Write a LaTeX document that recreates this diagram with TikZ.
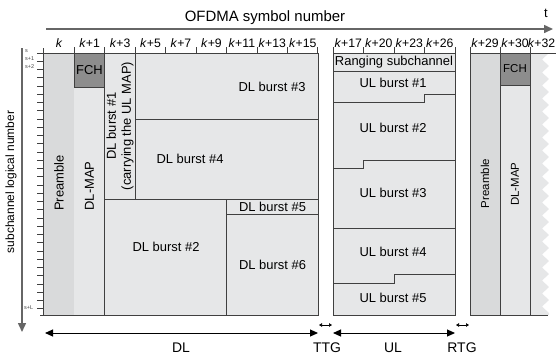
\documentclass[tikz,border=0pt]{standalone}
\usepackage{fontspec}
\setmainfont{Liberation Sans}
\usetikzlibrary{arrows.meta}
\definecolor{burstfill}{HTML}{E6E7E8}
\definecolor{preamblefill}{HTML}{D9DADB}
\definecolor{fchfill}{HTML}{8D8D8D}
\definecolor{linegray}{HTML}{404040}
\definecolor{axisgray}{HTML}{666666}
\begin{document}
\begin{tikzpicture}[x=1bp,y=-1bp,
        box/.style={draw=linegray,line width=1pt,fill=burstfill},
        prebox/.style={draw=linegray,line width=1pt,fill=preamblefill},
        fchbox/.style={draw=linegray,line width=1pt,fill=fchfill},
        edge/.style={draw=linegray,line width=1pt},
        txt/.style={inner sep=0pt,font=\fontsize{13}{15}\selectfont},
        smalltxt/.style={inner sep=0pt,font=\fontsize{11.5}{13}\selectfont},
        klab/.style={inner sep=0pt,font=\fontsize{12.3}{14}\selectfont},
        slab/.style={inner sep=0pt,anchor=west,font=\fontsize{5.5}{6}\selectfont,text=linegray},
        axis/.style={draw=axisgray,line width=1.5pt,-{Triangle[length=9bp,width=8bp]}},
        period/.style={draw=black,line width=1pt,{Triangle[length=8bp,width=7bp]}-{Triangle[length=8bp,width=7bp]}},
        guard/.style={draw=black,line width=0.6pt,{Triangle[length=3bp,width=3.5bp]}-{Triangle[length=3bp,width=3.5bp]}}
      ]
      \useasboundingbox (0,0) rectangle (556,356);
      % axes
      \node[inner sep=0pt,font=\fontsize{15}{17}\selectfont] (title) at (265,18) {OFDMA symbol number};
      \node[txt] (tlabel) at (546,13) {t};
      \coordinate (tstart) at (46,29);
      \coordinate (tend) at (553,29);
      \draw[axis] (tstart) -- (tend);
      \coordinate (sstart) at (22,48);
      \coordinate (send) at (22,332);
      \draw[axis] (sstart) -- (send);
      \node[inner sep=0pt,rotate=90,font=\fontsize{12}{14}\selectfont] (ylabel) at (11,182) {subchannel logical number};
      % subchannel ticks
      \draw[edge] (43,48) -- (43,315);
      \foreach \i in {0,...,31}
        \draw[edge] (37,{53+8.25*\i}) -- (43,{53+8.25*\i});
      \node[slab] (s0) at (25,51) {s};
      \node[slab] (s1) at (25,59) {s+1};
      \node[slab] (s2) at (25,67) {s+2};
      \node[slab] (sL) at (24,308) {s+L};
      % DL subframe
      \fill[preamblefill] (44,53) rectangle (74.4,315);
      \fill[burstfill] (74.4,87) rectangle (104.9,315);
      \draw[edge] (43,53) -- (104.9,53);
      \draw[edge] (40,315) -- (104.9,315);
      \draw[fchbox] (74.4,53) rectangle (104.9,87);
      \draw[box] (104.9,53) rectangle (135.3,199);
      \draw[box] (135.3,53) rectangle (318,119);
      \draw[box] (135.3,119) rectangle (318,199);
      \draw[box] (104.9,199) rectangle (226.6,315);
      \draw[box] (226.6,199) rectangle (318,214);
      \draw[box] (226.6,214) rectangle (318,315);
      \foreach \i in {1,...,9}
        \draw[edge] ({44+30.44*\i},47) -- ({44+30.44*\i},53);
      \foreach \i/\s in {0/{},1/+1,2/+3,3/+5,4/+7,5/+9,6/+11,7/+13,8/+15}
        \node[klab] (kd\i) at ({44+30.44*(\i+0.5)},43) {\textit{k}\s};
      \node[txt,rotate=90] (pre1) at (59,183) {Preamble};
      \node[txt,rotate=90] (map1) at (89.5,186) {DL-MAP};
      \node[txt] (fch1) at (89.5,70) {FCH};
      \node[txt,rotate=90,align=center] (dl1) at (120,126) {DL burst \#1\\(carrying the UL MAP)};
      \node[txt] (dl3) at (272,87) {DL burst \#3};
      \node[txt] (dl4) at (190,159) {DL burst \#4};
      \node[txt] (dl2) at (166,247) {DL burst \#2};
      \node[txt] (dl5) at (272.5,207) {DL burst \#5};
      \node[txt] (dl6) at (272.5,265) {DL burst \#6};
      % UL subframe
      \draw[box] (333,53) rectangle (455,315);
      \draw[box] (333,53) rectangle (455,71);
      \draw[edge] (333,102) -| (424.5,94) -- (455,94);
      \draw[edge] (333,168) -| (363.5,160) -- (455,160);
      \draw[edge] (333,228) -- (455,228);
      \draw[edge] (333,283) -| (394,274) -- (455,274);
      \foreach \i in {0,...,4}
        \draw[edge] ({333+30.5*\i},47) -- ({333+30.5*\i},53);
      \foreach \i/\s in {0/+17,1/+20,2/+23,3/+26}
        \node[klab] (ku\i) at ({333+30.5*(\i+0.5)},43) {\textit{k}\s};
      \node[txt] (rng) at (394,62) {Ranging subchannel};
      \node[txt] (ul1) at (393,83) {UL burst \#1};
      \node[txt] (ul2) at (393,128) {UL burst \#2};
      \node[txt] (ul3) at (393,193) {UL burst \#3};
      \node[txt] (ul4) at (393,252) {UL burst \#4};
      \node[txt] (ul5) at (393,298) {UL burst \#5};
      % next frame
      \fill[burstfill] (530,53) -- (549,53)
        \foreach \i in {0,...,19} {-- (542,{59.5+13*\i}) -- (549,{66+13*\i})}
        -- (549,315) -- (530,315) -- cycle;
      \draw[edge] (470,53) -- (556,53);
      \draw[edge] (470,315) -- (548,315);
      \draw[prebox] (470,53) rectangle (500,315);
      \draw[box] (500,53) rectangle (530,315);
      \draw[fchbox] (500,53) rectangle (530,85);
      \foreach \x in {470,500,530}
        \draw[edge] (\x,47) -- (\x,53);
      \node[klab] (kn0) at (485,43) {\textit{k}+29};
      \node[klab] (kn1) at (515,43) {\textit{k}+30};
      \node[klab] (kn2) at (541.5,43) {\textit{k}+32};
      \node[smalltxt,rotate=90] (pre2) at (485,183.5) {Preamble};
      \node[smalltxt,rotate=90] (map2) at (515,184) {DL-MAP};
      \node[smalltxt] (fch2) at (515,69) {FCH};
      % durations
      \coordinate (dlL) at (45,333);
      \coordinate (dlR) at (318,333);
      \coordinate (ulL) at (333,333);
      \coordinate (ulR) at (455,333);
      \coordinate (ttgL) at (319,325);
      \coordinate (ttgR) at (332,325);
      \coordinate (rtgL) at (456,325);
      \coordinate (rtgR) at (469,325);
      \draw[period] (dlL) -- (dlR);
      \draw[period] (ulL) -- (ulR);
      \draw[guard] (ttgL) -- (ttgR);
      \draw[guard] (rtgL) -- (rtgR);
      \node[txt,font=\fontsize{14}{16}\selectfont] (dl) at (181,348) {DL};
      \node[txt,font=\fontsize{14}{16}\selectfont] (ttg) at (327,348) {TTG};
      \node[txt,font=\fontsize{14}{16}\selectfont] (ul) at (393,348) {UL};
      \node[txt,font=\fontsize{14}{16}\selectfont] (rtg) at (462,348) {RTG};
    \end{tikzpicture}
\end{document}
